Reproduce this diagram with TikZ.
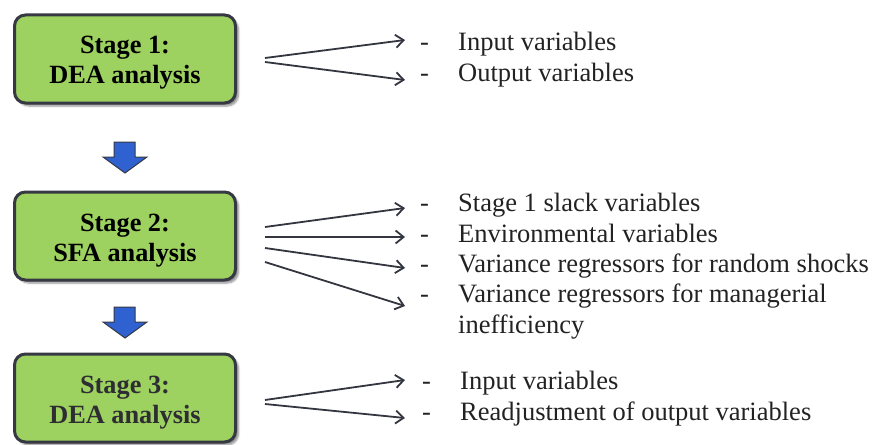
\documentclass[tikz,border=0pt]{standalone}
\usepackage{fontspec}
\setmainfont{Liberation Serif}
\usetikzlibrary{arrows.meta,shadows.blur}
\definecolor{boxgreen}{HTML}{9DD160}
\definecolor{boxedge}{HTML}{363843}
\definecolor{arrowblue}{HTML}{2F62D0}
\definecolor{linecol}{HTML}{33353F}
\definecolor{txt}{HTML}{222222}
\begin{document}
\begin{tikzpicture}[x=1pt,y=-1pt,
  stagebox/.style={draw=boxedge, line width=3pt, fill=boxgreen, rounded corners=11pt,
    minimum width=221pt, minimum height=88pt, inner sep=0pt,
    blur shadow={shadow xshift=3pt, shadow yshift=-3pt, shadow blur steps=6, shadow opacity=45}},
  boxtxt/.style={inner sep=0pt, font=\fontsize{26.3}{30}\selectfont\bfseries, align=center},
  conn/.style={draw=linecol, line width=1.8pt, -{Straight Barb[length=8pt,width=13pt,line width=1.8pt]}},
  dashlbl/.style={anchor=base west, inner sep=0pt, font=\fontsize{26.5}{30}\selectfont, text=txt},
  itemlbl/.style={anchor=base west, inner sep=0pt, font=\fontsize{26.5}{30}\selectfont, text=txt},
  downarrow/.style={fill=arrowblue, draw=boxedge, line width=1pt, line join=miter}
]
\useasboundingbox (0,0) rectangle (874,444);

% stage boxes
\node[stagebox] (s1) at (125,59) {};
\node[boxtxt] (s1t) at (125,62.5) {Stage 1:\\DEA analysis};
\node[stagebox] (s2) at (125,236) {};
\node[boxtxt] (s2t) at (125,241) {Stage 2:\\SFA analysis};
\node[stagebox] (s3) at (125,398) {};
\node[boxtxt, text={rgb,255:red,45;green,45;blue,50}] (s3t) at (125,403) {Stage 3:\\DEA analysis};

% blue down arrows
\draw[downarrow] (114,142) -- (135,142) -- (135,157) -- (147,157) -- (125,173) -- (103,157) -- (114,157) -- cycle;
\draw[downarrow] (114,307) -- (135,307) -- (135,322) -- (147,322) -- (125,338) -- (103,322) -- (114,322) -- cycle;

% stage 1 items
\node[dashlbl] (d1a) at (420,50) {-};
\node[dashlbl] (d1b) at (420,81) {-};
\node[itemlbl] (t1a) at (458,50) {Input variables};
\node[itemlbl] (t1b) at (458,81) {Output variables};
\coordinate (o1a) at (265,58);
\coordinate (o1b) at (265,62);
\coordinate (e1a) at (405,40);
\coordinate (e1b) at (405,80);
\draw[conn] (o1a) -- (e1a);
\draw[conn] (o1b) -- (e1b);

% stage 2 items
\node[dashlbl] (d2a) at (420,211) {-};
\node[dashlbl] (d2b) at (420,242) {-};
\node[dashlbl] (d2c) at (420,272) {-};
\node[dashlbl] (d2d) at (420,302) {-};
\node[itemlbl] (t2a) at (458,211) {Stage 1 slack variables};
\node[itemlbl] (t2b) at (458,242) {Environmental variables};
\node[itemlbl] (t2c) at (458,272) {Variance regressors for random shocks};
\node[itemlbl] (t2d) at (458,302) {Variance regressors for managerial};
\node[itemlbl] (t2e) at (458,333) {inefficiency};
\coordinate (o2a) at (265,227);
\coordinate (o2b) at (265,237);
\coordinate (o2c) at (265,248);
\coordinate (o2d) at (265,262);
\coordinate (e2a) at (405,208);
\coordinate (e2b) at (405,237);
\coordinate (e2c) at (405,268);
\coordinate (e2d) at (405,306);
\draw[conn] (o2a) -- (e2a);
\draw[conn] (o2b) -- (e2b);
\draw[conn] (o2c) -- (e2c);
\draw[conn] (o2d) -- (e2d);

% stage 3 items
\node[dashlbl] (d3a) at (422,389) {-};
\node[dashlbl] (d3b) at (422,420) {-};
\node[itemlbl] (t3a) at (460,389) {Input variables};
\node[itemlbl] (t3b) at (460,420) {Readjustment of output variables};
\coordinate (o3a) at (265,400);
\coordinate (o3b) at (265,404);
\coordinate (e3a) at (405,380);
\coordinate (e3b) at (405,418);
\draw[conn] (o3a) -- (e3a);
\draw[conn] (o3b) -- (e3b);
\end{tikzpicture}
\end{document}
